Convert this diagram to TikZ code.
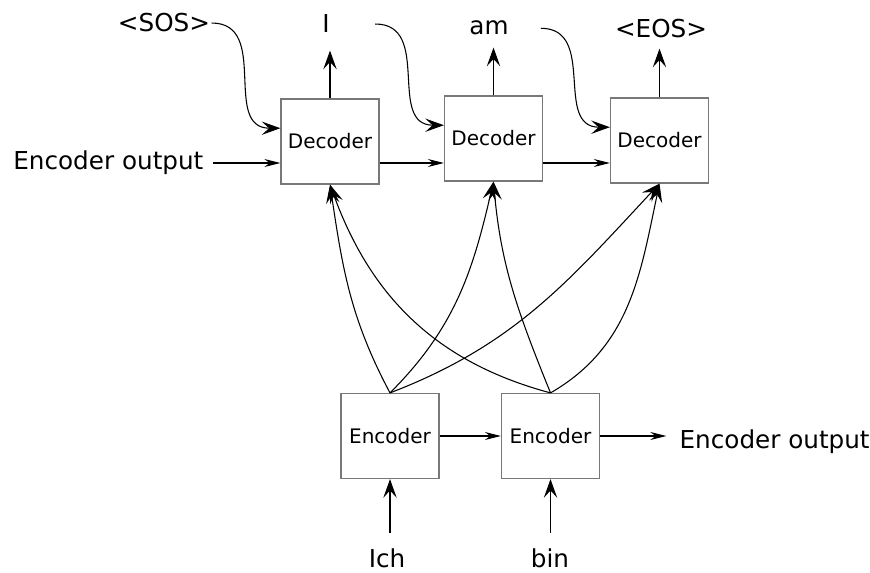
\documentclass[tikz,border=0pt]{standalone}
\usepackage{fontspec}
\setmainfont{DejaVu Sans}
\usetikzlibrary{arrows.meta,positioning,calc}

\tikzset{
	block/.style={draw={rgb,255:red,120;green,120;blue,120}, line width=0.9pt, minimum width=73.5pt, minimum height=63.75pt, inner sep=0pt, font=\fontsize{15}{18}\selectfont},
	word/.style={inner sep=1pt, font=\fontsize{18.5}{22}\selectfont},
	bigarrow/.style={-{Stealth[length=14pt,width=10pt,inset=5.5pt]}, line width=0.8pt},
	slimarrow/.style={-{Stealth[length=12pt,width=6pt,inset=4pt]}, line width=0.8pt},
}

\begin{document}
\begin{tikzpicture}[x=0.75pt,y=0.75pt]
	\useasboundingbox[fill=white] (0,0) rectangle (870,572);
	
	% Decoder row
	\node[block] (dec1) at (330,430.5) {Decoder};
	\node[block] (dec2) at (493.5,433.5) {Decoder};
	\node[block] (dec3) at (659.5,431.5) {Decoder};
	% Encoder row
	\node[block] (enc1) at (390,136) {Encoder};
	\node[block] (enc2) at (550.5,136) {Encoder};
	
	% Text Nodes
	\node[word, anchor=base] (sos) at (164,540) {<SOS>};
	\node[word, anchor=base] (wI) at (326,539) {I};
	\node[word, anchor=base] (wam) at (489,537) {am};
	\node[word, anchor=base] (eos) at (661,534) {<EOS>};
	\node[word, anchor=east] (encin) at (205,409) {Encoder output};
	\node[word, anchor=base west] (encout) at (678,124) {Encoder output};
	\node[word, anchor=base] (ich) at (387,5) {Ich};
	\node[word, anchor=base] (bin) at (550,5) {bin};
	\coordinate (lane) at (0,409);
	
	% previous word into next decoder
	\draw[bigarrow] (sos.east) to[out=0,in=180,looseness=1.2] (dec1.165);
	\draw[bigarrow] ([xshift=33pt]wI.east) to[out=0,in=180,looseness=1.2] (dec2.165);
	\draw[bigarrow] ([xshift=23pt]wam.east) to[out=0,in=180,looseness=1.2] (dec3.165);
	
	% decoder outputs
	\draw[bigarrow, shorten >=12pt] (dec1.north) -- (dec1.north |- wI.south);
	\draw[bigarrow, shorten >=8pt] (dec2.north) -- (dec2.north |- wam.south);
	\draw[bigarrow, shorten >=6.5pt] (dec3.north) -- (dec3.north |- eos.south);
	
	% horizontal chain
	\draw[slimarrow, shorten <=6pt] (encin.east) -- (dec1.west |- lane);
	\draw[slimarrow] (dec1.east |- lane) -- (dec2.west |- lane);
	\draw[slimarrow] (dec2.east |- lane) -- (dec3.west |- lane);
	\draw[slimarrow] (enc1.east) -- (enc2.west);
	\draw[slimarrow, shorten >=8.8pt] (enc2.east) -- (enc2.east -| encout.west);
	
	% encoder inputs
	\draw[bigarrow, shorten <=10.5pt] (enc1.south |- ich.north) -- (enc1.south);
	\draw[bigarrow, shorten <=10.5pt] (enc2.south |- bin.north) -- (enc2.south);
	
	% encoder states to every decoder
	\draw[bigarrow] (enc1.north) to[out=118,in=-81.5] (dec1.south);
	\draw[bigarrow] (enc1.north) to[out=45,in=-103] (dec2.south);
	\draw[bigarrow] (enc1.north) to[out=21,in=-133] (dec3.south);
	\draw[bigarrow] (enc2.north) to[out=165,in=-70] (dec1.south);
	\draw[bigarrow] (enc2.north) to[out=112,in=-85] (dec2.south);
	\draw[bigarrow] (enc2.north) to[out=30,in=-102] (dec3.south);
\end{tikzpicture}
\end{document}
